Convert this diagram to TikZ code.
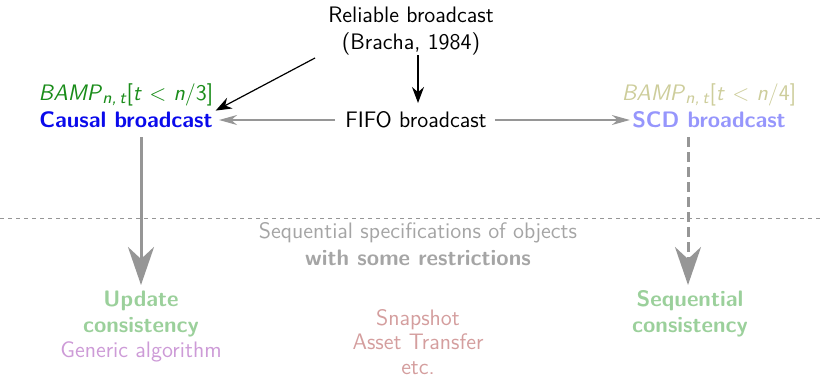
\documentclass[tikz,border=0pt]{standalone}
\usetikzlibrary{arrows.meta}
\definecolor{bampgreen}{RGB}{25,140,25}
\definecolor{causalblue}{RGB}{10,10,235}
\definecolor{bampolive}{RGB}{205,205,155}
\definecolor{scdblue}{RGB}{150,150,252}
\definecolor{flowgray}{RGB}{150,150,150}
\definecolor{specgray}{RGB}{165,165,165}
\definecolor{consgreen}{RGB}{155,208,155}
\definecolor{genpurple}{RGB}{205,155,215}
\definecolor{objrose}{RGB}{212,158,158}
\newcommand{\lblfont}{\sffamily\fontsize{11.2}{13.2}\selectfont}
\newcommand{\bamp}[1]{\textsl{BAMP}\raisebox{-0.3ex}{\fontsize{8.4}{9}\selectfont\textsl{n,\,t}}[\textsl{t}\ $<$\ \textsl{n}/#1]}
\tikzset{
  lbl/.style={inner sep=0pt, align=center, font=\lblfont},
  boldlbl/.style={lbl, font=\lblfont\bfseries},
  thinarrow/.style={-{Stealth[length=8pt,width=6pt]}, line width=0.6pt},
  grayarrow/.style={-{Stealth[length=9pt,width=5pt]}, line width=0.6pt, flowgray},
  bigarrow/.style={-{Stealth[length=19pt,width=13pt,inset=6pt]}, line width=1.5pt, flowgray},
}
\begin{document}
\begin{tikzpicture}[x=0.5pt,y=-0.5pt]
\useasboundingbox (0,0) rectangle (822,376);

% top row
\node[lbl] (rel) at (411,31) {Reliable broadcast\\(Bracha, 1984)};
\node[lbl] (fifo) at (416,120) {FIFO broadcast};
\node[lbl, bampgreen] (bamp3) at (126,95) {\bamp{3}};
\node[boldlbl, causalblue] (causal) at (126,120) {Causal broadcast};
\node[lbl, bampolive] (bamp4) at (709,95) {\bamp{4}};
\node[boldlbl, scdblue] (scd) at (709,120) {SCD broadcast};

\coordinate (relL) at (315,58);
\coordinate (relD) at (418,55);
\draw[thinarrow] (relL) -- ([xshift=1pt,yshift=-2pt]bamp3.south east);
\draw[thinarrow] (relD) -- (418,103);
\draw[grayarrow] ([xshift=-5pt]fifo.west) -- ([xshift=3pt]causal.east);
\draw[grayarrow] ([xshift=4pt]fifo.east) -- ([xshift=-1pt]scd.west);

% separator
\coordinate (sepL) at (0,218);
\coordinate (sepR) at (822,218);
\draw[flowgray, line width=0.5pt, dash pattern=on 2pt off 2pt] (sepL) -- (sepR);

% middle text
\node[lbl, specgray] (spec) at (418,244) {Sequential specifications of objects\\\textbf{with some restrictions}};

% bottom row
\node[boldlbl, consgreen] (upd) at (141,314) {Update\\consistency};
\node[lbl, genpurple] (gen) at (141,352) {Generic algorithm};
\node[lbl, objrose, font=\sffamily\fontsize{11.2}{12.3}\selectfont] (objs) at (418,342) {Snapshot\\Asset Transfer\\etc.};
\node[boldlbl, consgreen] (seq) at (690,314) {Sequential\\consistency};

\coordinate (cTop) at (141,137);
\coordinate (cBot) at (141,285);
\coordinate (sTop) at (688,137);
\coordinate (sBot) at (688,285);
\draw[bigarrow] (cTop) -- (cBot);
\draw[bigarrow, dash pattern=on 5pt off 2.5pt] (sTop) -- (sBot);
\end{tikzpicture}
\end{document}
